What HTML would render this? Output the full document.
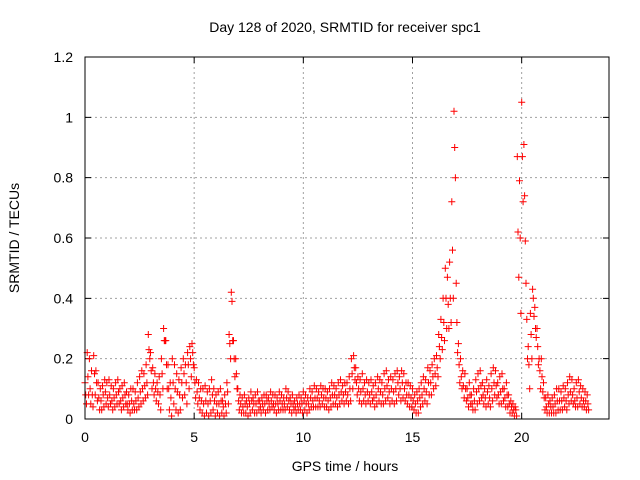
<!DOCTYPE html>
<html><head><meta charset="utf-8"><style>
body{margin:0;background:#fff}
svg{display:block;font-family:"Liberation Sans",sans-serif}
</style></head><body>
<svg id="chart" width="640" height="480" viewBox="0 0 640 480">
<rect width="640" height="480" fill="#fff"/>
<text x="345" y="32" font-size="14" text-anchor="middle">Day 128 of 2020, SRMTID for receiver spc1</text>
<text transform="translate(19,238) rotate(-90)" font-size="14" text-anchor="middle">SRMTID / TECUs</text>
<text x="345" y="471" font-size="14" text-anchor="middle">GPS time / hours</text>
<g id="grid"></g>
<g id="marks"></g>
<rect x="85" y="57" width="524" height="362" fill="none" stroke="#000" stroke-width="1"/>
</svg>
<script>
const xTicks=[0,5,10,15,20];
const yTicks=[0,0.2,0.4,0.6,0.8,1,1.2];
const yTickLabels=["0","0.2","0.4","0.6","0.8","1","1.2"];
const stepHours=0.1;
const hiVals=[.12,.22,.2,.16,.21,.16,.12,.1,.11,.13,.12,.13,.11,.1,.12,.13,.1,.11,.12,.09,.08,.1,.1,.09,.12,.14,.16,.15,.18,.28,.22,.17,.15,.12,.14,.2,.3,.26,.18,.12,.2,.18,.15,.13,.17,.2,.18,.22,.24,.25,.17,.13,.12,.1,.1,.11,.09,.1,.13,.1,.08,.09,.1,.06,.08,.12,.28,.42,.26,.2,.1,.08,.07,.08,.06,.07,.09,.07,.08,.09,.06,.07,.08,.08,.07,.09,.08,.08,.07,.09,.08,.07,.1,.09,.07,.08,.06,.07,.08,.07,.09,.08,.07,.1,.09,.11,.1,.09,.11,.1,.1,.09,.1,.12,.11,.1,.12,.13,.11,.12,.12,.14,.2,.21,.17,.14,.13,.15,.12,.13,.12,.13,.11,.12,.14,.13,.12,.15,.16,.13,.14,.13,.15,.16,.14,.16,.15,.12,.12,.11,.1,.08,.09,.1,.12,.14,.13,.17,.16,.18,.2,.21,.28,.33,.4,.5,.47,.52,.72,1.02,.45,.25,.2,.16,.15,.1,.12,.08,.1,.13,.15,.16,.12,.1,.13,.11,.15,.17,.16,.12,.14,.15,.1,.12,.08,.06,.05,.04,.87,.79,1.05,.91,.45,.24,.35,.43,.37,.3,.2,.2,.12,.07,.08,.06,.07,.08,.1,.1,.09,.11,.1,.12,.14,.13,.1,.12,.13,.11,.1,.09,.08];
const midVals=[.08,.14,.1,.08,.15,.12,.07,.06,.08,.09,.07,.08,.06,.07,.08,.09,.06,.07,.08,.05,.05,.06,.05,.06,.07,.09,.1,.11,.12,.23,.16,.12,.1,.09,.08,.15,.26,.18,.1,.07,.12,.1,.09,.08,.12,.15,.12,.18,.2,.22,.12,.09,.07,.06,.05,.06,.05,.06,.08,.06,.05,.05,.06,.04,.05,.09,.25,.39,.2,.15,.06,.05,.04,.05,.04,.05,.06,.05,.05,.06,.04,.05,.05,.06,.05,.06,.05,.05,.05,.06,.05,.05,.07,.06,.05,.05,.04,.05,.05,.05,.06,.05,.05,.07,.06,.07,.07,.06,.08,.07,.07,.06,.07,.08,.08,.07,.08,.09,.08,.09,.08,.1,.15,.17,.12,.1,.09,.1,.08,.09,.08,.09,.07,.08,.1,.09,.08,.1,.11,.09,.1,.09,.1,.12,.1,.12,.1,.08,.08,.07,.06,.05,.06,.07,.08,.1,.09,.12,.12,.14,.15,.17,.24,.27,.32,.4,.38,.4,.56,.9,.32,.18,.14,.11,.1,.07,.08,.05,.06,.09,.1,.11,.08,.07,.09,.07,.1,.12,.11,.08,.09,.1,.07,.08,.05,.04,.03,.03,.62,.6,.87,.74,.33,.18,.28,.4,.3,.24,.16,.14,.07,.04,.05,.04,.04,.05,.06,.06,.06,.07,.06,.08,.09,.08,.06,.07,.09,.07,.06,.06,.05];
const loVals=[.05,.08,.05,.04,.08,.06,.03,.03,.04,.05,.04,.05,.03,.04,.05,.05,.03,.04,.05,.03,.02,.03,.03,.03,.04,.05,.06,.07,.08,.2,.1,.08,.06,.05,.03,.1,.26,.1,.03,.01,.05,.03,.02,.03,.07,.08,.05,.1,.14,.18,.07,.05,.03,.02,.01,.02,.01,.02,.03,.01,.02,.01,.02,.01,.02,.05,.2,.26,.14,.1,.03,.02,.02,.02,.01,.02,.03,.02,.02,.03,.02,.03,.02,.03,.03,.04,.03,.02,.03,.03,.03,.03,.04,.03,.02,.03,.02,.03,.03,.02,.03,.02,.03,.04,.04,.04,.04,.04,.05,.04,.04,.03,.04,.05,.05,.04,.05,.06,.05,.06,.05,.06,.1,.13,.08,.06,.05,.06,.05,.06,.05,.06,.04,.05,.06,.05,.05,.06,.07,.05,.06,.05,.06,.08,.06,.07,.06,.05,.04,.04,.03,.02,.02,.04,.05,.06,.05,.08,.08,.1,.11,.14,.2,.23,.26,.3,.3,.32,.4,.8,.22,.12,.1,.07,.06,.04,.05,.03,.03,.05,.06,.07,.05,.04,.05,.04,.06,.08,.07,.05,.05,.06,.04,.04,.02,.02,.01,.01,.47,.35,.72,.59,.2,.1,.2,.34,.27,.18,.1,.09,.03,.02,.02,.02,.02,.02,.03,.03,.03,.04,.03,.05,.06,.05,.04,.04,.05,.04,.04,.03,.03];

const NS="http://www.w3.org/2000/svg";
const L=85,R=609,T=57,B=419;
function xs(h){return L+(h/24)*(R-L);}
function ys(v){return B-(v/1.2)*(B-T);}
const grid=document.getElementById('grid');
const svg=document.getElementById('chart');
xTicks.forEach(t=>{
  const x=xs(t);
  if(t>0){
    const g=document.createElementNS(NS,'line');
    
    
    g.setAttribute('x1',x);g.setAttribute('x2',x);g.setAttribute('y1',T);g.setAttribute('y2',B);
    g.setAttribute('stroke','#a0a0a0');g.setAttribute('stroke-dasharray','2,3');
    grid.appendChild(g);
  }
  const tk=document.createElementNS(NS,'path');
  
  
  tk.setAttribute('d',`M${x} ${B}v-6M${x} ${T}v6`);tk.setAttribute('stroke','#000');
  grid.appendChild(tk);
  const lb=document.createElementNS(NS,'text');
  
  
  lb.setAttribute('x',x);lb.setAttribute('y',B+23);lb.setAttribute('font-size','14');lb.setAttribute('text-anchor','middle');
  lb.textContent=String(t);svg.appendChild(lb);
});
yTicks.forEach((t,i)=>{
  const y=ys(t);
  if(t>0&&t<1.2){
    const g=document.createElementNS(NS,'line');
    
    
    g.setAttribute('x1',L);g.setAttribute('x2',R);g.setAttribute('y1',y);g.setAttribute('y2',y);
    g.setAttribute('stroke','#a0a0a0');g.setAttribute('stroke-dasharray','2,3');
    grid.appendChild(g);
  }
  const tk=document.createElementNS(NS,'path');
  
  
  tk.setAttribute('d',`M${L} ${y}h6M${R} ${y}h-6`);tk.setAttribute('stroke','#000');
  grid.appendChild(tk);
  const lb=document.createElementNS(NS,'text');
  
  
  lb.setAttribute('x',L-12);lb.setAttribute('y',y+5);lb.setAttribute('font-size','14');lb.setAttribute('text-anchor','end');
  lb.textContent=yTickLabels[i];svg.appendChild(lb);
});
const marks=document.getElementById('marks');
[[hiVals,0],[midVals,0.033],[loVals,0.067]].forEach(([arr,off])=>{
  arr.forEach((v,i)=>{
    const x=xs(i*stepHours+off),y=ys(v);
    const p=document.createElementNS(NS,'path');
    
    
    p.setAttribute('d',`M${(x-3.5).toFixed(1)} ${y.toFixed(1)}h7M${x.toFixed(1)} ${(y-3.5).toFixed(1)}v7`);
    p.setAttribute('stroke','#ff0000');p.setAttribute('stroke-width','1');p.setAttribute('fill','none');
    marks.appendChild(p);
  });
});
</script>
</body></html>
